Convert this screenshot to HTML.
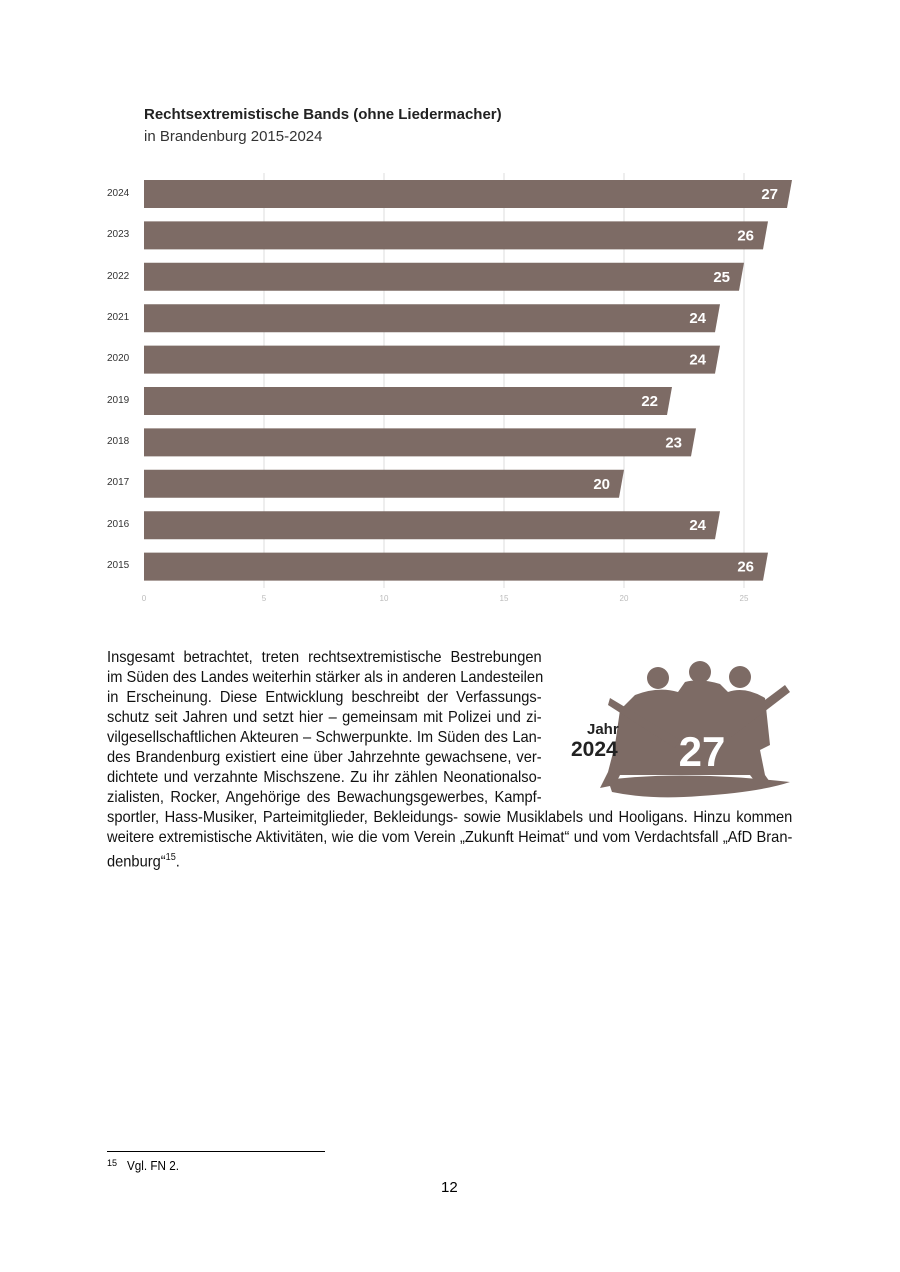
<!DOCTYPE html>
<html><head><meta charset="utf-8"><style>
body{margin:0;background:#fff;width:900px;height:1272px;position:relative;overflow:hidden;font-family:"Liberation Sans",sans-serif}
.t{position:absolute;white-space:nowrap}
.yl{position:absolute;left:107px;font-size:10px;color:#333;font-family:"Liberation Sans",sans-serif}
.xl{position:absolute;top:594px;font-size:8px;color:#bbb;font-family:"Liberation Sans",sans-serif;width:20px;text-align:center}
.para{position:absolute;left:107px;font-family:"Liberation Sans",sans-serif;font-size:16px;color:#111;transform:scaleX(0.915);transform-origin:0 0}
.ln{height:20px;line-height:20px;text-align:justify;text-align-last:justify;white-space:nowrap;overflow:visible}
</style></head><body>
<div class="t" style="left:144px;top:106px;font-size:15px;font-weight:bold;color:#222">Rechtsextremistische Bands (ohne Liedermacher)</div>
<div class="t" style="left:144px;top:128px;font-size:15px;color:#333">in Brandenburg 2015-2024</div>

<svg style="position:absolute;left:0;top:0" width="900" height="620">
<g stroke="#ddd" stroke-width="1">
<line x1="264" y1="173" x2="264" y2="588"/><line x1="384" y1="173" x2="384" y2="588"/><line x1="504" y1="173" x2="504" y2="588"/><line x1="624" y1="173" x2="624" y2="588"/><line x1="744" y1="173" x2="744" y2="588"/>
</g>
<g fill="#7d6b65" id="bars"></g>
<g fill="#fff" font-family="Liberation Sans,sans-serif" font-weight="bold" font-size="15" text-anchor="end" id="lbl"></g>
</svg>
<script>
var v=[27,26,25,24,24,22,23,20,24,26],g=document.getElementById('bars'),l=document.getElementById('lbl'),ns="http://www.w3.org/2000/svg";
v.forEach(function(d,i){var y=180+i*41.4,x=144+d*24;var p=document.createElementNS(ns,'polygon');p.setAttribute('points',144+','+y+' '+x+','+y+' '+(x-5)+','+(y+28)+' 144,'+(y+28));g.appendChild(p);
var t=document.createElementNS(ns,'text');t.setAttribute('x',x-14);t.setAttribute('y',y+19);t.textContent=d;l.appendChild(t);});
</script>
<div class="yl" style="top:188px">2024</div><div class="yl" style="top:229px">2023</div><div class="yl" style="top:271px">2022</div><div class="yl" style="top:312px">2021</div><div class="yl" style="top:353px">2020</div><div class="yl" style="top:395px">2019</div><div class="yl" style="top:436px">2018</div><div class="yl" style="top:477px">2017</div><div class="yl" style="top:519px">2016</div><div class="yl" style="top:560px">2015</div>
<div class="xl" style="left:134px">0</div><div class="xl" style="left:254px">5</div><div class="xl" style="left:374px">10</div><div class="xl" style="left:494px">15</div><div class="xl" style="left:614px">20</div><div class="xl" style="left:734px">25</div>

<div class="para" style="top:648px;width:475px">
<div class="ln">Insgesamt betrachtet, treten rechtsextremistische Bestrebungen</div>
<div class="ln">im Süden des Landes weiterhin stärker als in anderen Landesteilen</div>
<div class="ln">in Erscheinung. Diese Entwicklung beschreibt der Verfassungs-</div>
<div class="ln">schutz seit Jahren und setzt hier – gemeinsam mit Polizei und zi-</div>
<div class="ln">vilgesellschaftlichen Akteuren – Schwerpunkte. Im Süden des Lan-</div>
<div class="ln">des Brandenburg existiert eine über Jahrzehnte gewachsene, ver-</div>
<div class="ln">dichtete und verzahnte Mischszene. Zu ihr zählen Neonationalso-</div>
<div class="ln">zialisten, Rocker, Angehörige des Bewachungsgewerbes, Kampf-</div>
</div>
<div class="para" style="top:808px;width:749px">
<div class="ln">sportler, Hass-Musiker, Parteimitglieder, Bekleidungs- sowie Musiklabels und Hooligans. Hinzu kommen</div>
<div class="ln">weitere extremistische Aktivitäten, wie die vom Verein „Zukunft Heimat“ und vom Verdachtsfall „AfD Bran-</div>
<div class="ln" style="text-align-last:left">denburg“<sup style="font-size:10px">15</sup>.</div>
</div>

<svg style="position:absolute;left:560px;top:650px" width="240" height="160">
<g fill="#7d6b65">
<circle cx="98" cy="28" r="11"/><circle cx="140" cy="22" r="11"/><circle cx="180" cy="27" r="11"/>
<path d="M75 45 Q98 36 118 42 L125 32 Q140 28 160 34 L168 42 Q185 36 205 48 L210 95 L200 100 L205 125 L212 135 L200 138 L190 125 L60 125 L55 135 L40 138 L48 122 L55 95 L60 60 Z"/>
<path d="M50 48 L120 90 L115 98 L48 55 Z"/>
<path d="M225 35 L165 80 L170 88 L230 42 Z"/>
<path d="M48 130 Q120 120 230 132 Q200 142 140 146 Q90 150 52 142 Z"/>
</g>
<text x="142" y="116" fill="#fff" font-family="Liberation Sans,sans-serif" font-weight="bold" font-size="42" text-anchor="middle">27</text>
</svg>
<div class="t" style="left:587px;top:721px;font-size:15px;font-weight:bold;color:#222">Jahr</div>
<div class="t" style="left:571px;top:738px;font-size:21px;font-weight:bold;color:#222">2024</div>

<div style="position:absolute;left:107px;top:1151px;width:218px;border-top:1px solid #000"></div>
<div class="t" style="left:107px;top:1158px;font-size:9px">15</div>
<div class="t" style="left:127px;top:1158px;font-size:13px;transform:scaleX(0.9);transform-origin:0 0">Vgl. FN 2.</div>
<div class="t" style="left:441px;top:1179px;font-size:15px">12</div>
</body></html>
